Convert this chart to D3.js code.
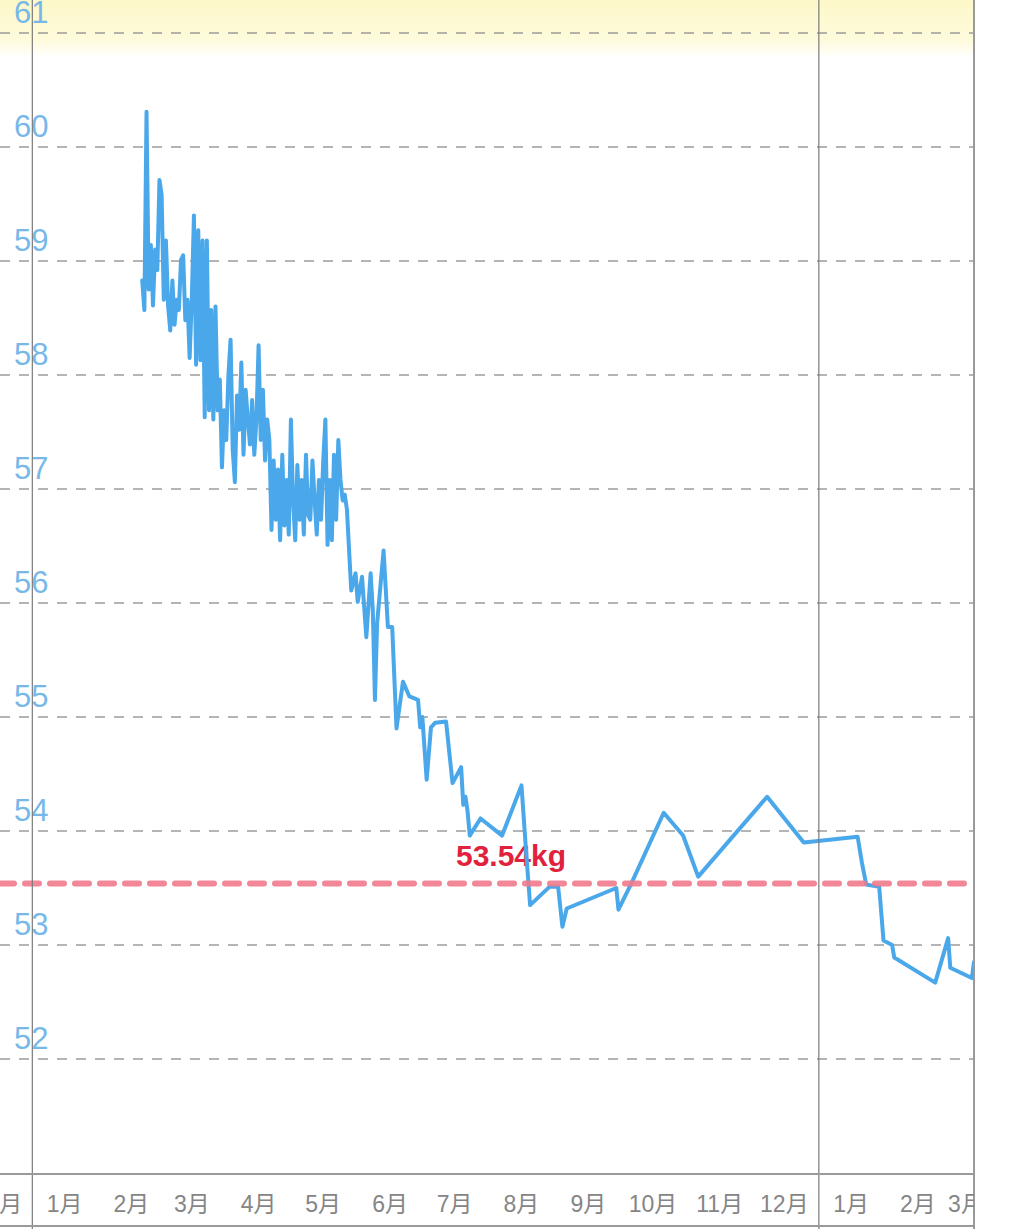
<!DOCTYPE html>
<html><head><meta charset="utf-8">
<script src="https://cdn.jsdelivr.net/npm/d3@7"></script>
<style>html,body{margin:0;padding:0;background:#fff;} svg{display:block;}</style>
</head><body><svg id="c" width="1024" height="1229"></svg>
<script>
// ---- data ----
const denseDates = [
"2021-02-21","2021-02-22","2021-02-23","2021-02-24","2021-02-25","2021-02-26","2021-02-27","2021-02-28",
"2021-03-01","2021-03-02","2021-03-03","2021-03-04","2021-03-05","2021-03-06","2021-03-07","2021-03-08","2021-03-09","2021-03-10",
"2021-03-11","2021-03-12","2021-03-13","2021-03-14","2021-03-15","2021-03-16","2021-03-17","2021-03-18","2021-03-19","2021-03-20",
"2021-03-21","2021-03-22","2021-03-23","2021-03-24","2021-03-25","2021-03-26","2021-03-27","2021-03-28","2021-03-29","2021-03-30","2021-03-31",
"2021-04-01","2021-04-02","2021-04-03","2021-04-04","2021-04-05","2021-04-06","2021-04-07","2021-04-08","2021-04-09","2021-04-10",
"2021-04-11","2021-04-12","2021-04-13","2021-04-14","2021-04-15","2021-04-16","2021-04-17","2021-04-18","2021-04-19","2021-04-20",
"2021-04-21","2021-04-22","2021-04-23","2021-04-24","2021-04-25","2021-04-26","2021-04-27","2021-04-28","2021-04-29","2021-04-30",
"2021-05-01","2021-05-02","2021-05-03","2021-05-04","2021-05-05","2021-05-06","2021-05-07","2021-05-08","2021-05-09","2021-05-10",
"2021-05-11","2021-05-12","2021-05-13","2021-05-14","2021-05-15","2021-05-16","2021-05-17","2021-05-18","2021-05-19","2021-05-20",
"2021-05-21","2021-05-22","2021-05-23","2021-05-24","2021-05-25","2021-05-26","2021-05-27"];
const denseWeights = [
58.83,58.57,60.31,58.75,59.14,58.61,59.10,58.92,
59.71,59.58,58.66,59.18,58.61,58.39,58.83,58.44,58.66,58.57,
59.01,59.05,58.48,58.66,58.15,58.66,59.40,58.09,59.27,58.13,
59.18,57.63,59.18,57.69,58.57,57.61,58.60,57.69,57.96,57.19,57.69,
57.43,58.00,58.31,57.34,57.06,57.82,57.52,58.11,57.30,57.87,
57.61,57.39,57.78,57.30,57.61,58.26,57.43,57.87,57.25,57.61,
57.43,56.64,57.25,56.73,57.17,56.55,57.30,56.68,57.08,56.60,
57.61,56.90,56.55,57.21,56.73,57.08,56.60,57.30,56.77,56.73,
57.25,56.90,56.60,57.08,56.73,57.25,57.61,56.51,57.08,56.55,
57.30,56.73,57.43,57.08,56.90,56.95,56.82];
const laterDates = [
"2021-05-29","2021-05-31","2021-06-01","2021-06-03","2021-06-05","2021-06-07","2021-06-08","2021-06-09","2021-06-10",
"2021-06-13","2021-06-15","2021-06-17","2021-06-19","2021-06-22","2021-06-25","2021-06-29","2021-06-30",
"2021-07-01","2021-07-03","2021-07-05","2021-07-07","2021-07-12","2021-07-15","2021-07-19","2021-07-20",
"2021-07-21","2021-07-22","2021-07-23","2021-07-28","2021-08-07","2021-08-16","2021-08-18","2021-08-20",
"2021-08-29","2021-09-02","2021-09-04","2021-09-06","2021-09-29","2021-09-30","2021-10-06","2021-10-21",
"2021-10-30","2021-11-06","2021-12-08","2021-12-25","2022-01-19","2022-01-21","2022-01-23","2022-01-29",
"2022-01-31","2022-02-04","2022-02-05","2022-02-24","2022-03-02","2022-03-03","2022-03-13","2022-03-14"];
const laterWeights = [
56.11,56.26,56.01,56.23,55.70,56.26,55.94,55.15,55.82,
56.46,55.79,55.79,54.90,55.31,55.18,55.15,54.91,
55.00,54.45,54.91,54.95,54.96,54.42,54.56,54.23,
54.30,54.17,53.96,54.11,53.96,54.40,53.86,53.35,
53.51,53.51,53.16,53.32,53.50,53.31,53.54,54.16,
53.96,53.60,54.30,53.90,53.95,53.72,53.53,53.51,
53.04,53.00,52.89,52.67,53.06,52.80,52.71,52.85];
const yTicks = [52,53,54,55,56,57,58,59,60,61];
const monthLabels = ["12月","1月","2月","3月","4月","5月","6月","7月","8月","9月","10月","11月","12月","1月","2月","3月"];
const yearStarts = ["2021-01-01","2022-01-01"];
const goalWeight = 53.54;
const goalLabel = "53.54kg";

// ---- build ----
const parse = d3.timeParse("%Y-%m-%d");
const series = denseDates.map((d,i)=>({date:parse(d), v:denseWeights[i]}))
  .concat(laterDates.map((d,i)=>({date:parse(d), v:laterWeights[i]})));

const plotRight = 974;
const x = d3.scaleTime().domain([new Date(2020,11,17), new Date(2022,2,14)]).range([0, plotRight]);
const y = d3.scaleLinear().domain([52,61]).range([1059,33]);

const svg = d3.select("#c");
const defs = svg.append("defs");
const grad = defs.append("linearGradient").attr("id","yb").attr("x1",0).attr("y1",0).attr("x2",0).attr("y2",1);
grad.append("stop").attr("offset","0%").attr("stop-color","#fdf8c8");
grad.append("stop").attr("offset","70%").attr("stop-color","#fefbdc");
grad.append("stop").attr("offset","100%").attr("stop-color","#ffffff");
defs.append("clipPath").attr("id","plotclip").append("rect")
  .attr("x",0).attr("y",0).attr("width",plotRight).attr("height",1229);

svg.append("rect").attr("x",0).attr("y",0).attr("width",plotRight).attr("height",58).attr("fill","url(#yb)");

// grid
svg.append("g").selectAll("line").data(yTicks).join("line")
  .attr("x1",0).attr("x2",plotRight).attr("y1",d=>y(d)).attr("y2",d=>y(d))
  .attr("stroke","#9c9c9c").attr("stroke-width",1.5).attr("stroke-dasharray","10,9");

// y labels
svg.append("g").selectAll("text").data(yTicks).join("text")
  .attr("x",14).attr("y",d=>y(d)-10)
  .attr("font-family","'Liberation Sans','Noto Sans',sans-serif")
  .attr("font-size",31).attr("fill","#78b8e8")
  .text(d=>d);

// goal label
svg.append("text").attr("x",511).attr("y",y(goalWeight)-17).attr("text-anchor","middle")
  .attr("font-family","'Liberation Sans',sans-serif").attr("font-weight","bold")
  .attr("font-size",30).attr("fill","#e2213c").text(goalLabel);

// blue line
const line = d3.line().x(d=>x(d.date)).y(d=>y(d.v));
svg.append("path").datum(series).attr("clip-path","url(#plotclip)")
  .attr("d",line).attr("fill","none").attr("stroke","#4aa8ea")
  .attr("stroke-width",4).attr("stroke-linejoin","round").attr("stroke-linecap","round");

// goal line
svg.append("line").attr("x1",0).attr("x2",plotRight).attr("y1",y(goalWeight)).attr("y2",y(goalWeight))
  .attr("stroke","#f07a8c").attr("stroke-opacity",0.9).attr("stroke-width",6)
  .attr("stroke-dasharray","14,11").attr("stroke-linecap","round");

// year boundaries
svg.append("g").selectAll("line").data(yearStarts).join("line")
  .attr("x1",d=>x(parse(d))).attr("x2",d=>x(parse(d))).attr("y1",0).attr("y2",1229)
  .attr("stroke","#7a7a7a").attr("stroke-width",1.2);

// bottom axis lines
[1174,1226].forEach(yy=>svg.append("line").attr("x1",0).attr("x2",plotRight).attr("y1",yy).attr("y2",yy)
  .attr("stroke","#9a9a9a").attr("stroke-width",2));
svg.append("line").attr("x1",plotRight).attr("x2",plotRight).attr("y1",0).attr("y2",1229)
  .attr("stroke","#9a9a9a").attr("stroke-width",2);

// month labels (mid-month, last one kept mostly inside the plot)
const months = d3.timeMonth.range(new Date(2020,11,1), new Date(2022,3,1));
svg.append("g").attr("clip-path","url(#plotclip)").selectAll("text").data(months).join("text")
  .attr("x",d=>Math.min(x(d3.timeDay.offset(d,15)), plotRight-8))
  .attr("y",1212).attr("text-anchor","middle")
  .attr("font-family","'Liberation Sans','Noto Sans CJK JP',sans-serif")
  .attr("font-size",23).attr("fill","#858585")
  .text((d,i)=>monthLabels[i]);
</script></body></html>
